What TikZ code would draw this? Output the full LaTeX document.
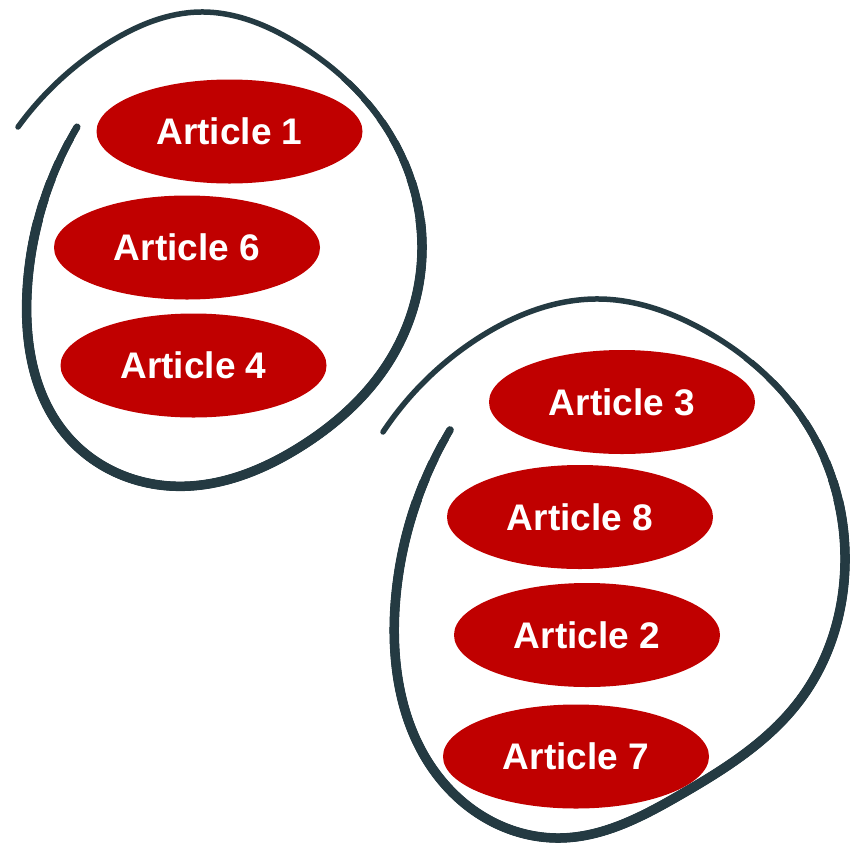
\documentclass[tikz,border=0pt]{standalone}
\usepackage{fontspec}
\setmainfont{Liberation Sans}
\usetikzlibrary{shapes.geometric,hobby}
\definecolor{artred}{HTML}{C00000}
\definecolor{loopcol}{HTML}{243A42}
\tikzset{
  article/.style={ellipse, fill=artred, draw=none, minimum width=266pt, minimum height=104pt, inner sep=0pt,
    text=white, font=\bfseries\fontsize{37}{44}\selectfont},
  loopline/.style={draw=loopcol, line width=5.5pt, line cap=round, line join=round, use Hobby shortcut}
}
\def\loopApath{(18,127) .. (110,42) .. (200,12) .. (300,45) .. (383,123) .. (422,245)
  .. (390,360) .. (300,447) .. (170,486) .. (68,437) .. (27,293) .. (77,127)}
\def\loopBpath{(383,432) .. (480,337) .. (600,299) .. (700,328) .. (810,430) .. (845,563)
  .. (800,700) .. (680,795) .. (560,838) .. (450,790) .. (395,607) .. (450,430)}
\begin{document}
\begin{tikzpicture}[x=1pt,y=-1pt]
\useasboundingbox (0,0) rectangle (857,844);
% loop A: thin at the start and top, gradually thicker lower down
\draw[loopline] \loopApath;
\begin{scope}
  \clip (0,844) -- (0,160) -- (30,160) -- (130,20) -- (440,20) -- (440,844) -- cycle;
  \foreach \k in {1,...,8} {
    \pgfmathsetmacro\lw{5.5+0.5*\k}
    \begin{scope}
      \clip (0,{60+20*\k}) rectangle (440,844);
      \draw[loopline, line width=\lw pt] \loopApath;
    \end{scope}
  }
\end{scope}
% loop B
\draw[loopline] \loopBpath;
\begin{scope}
  \clip (370,844) -- (370,494) -- (400,470) -- (500,330) -- (857,330) -- (857,844) -- cycle;
  \foreach \k in {1,...,8} {
    \pgfmathsetmacro\lw{5.5+0.5*\k}
    \begin{scope}
      \clip (370,{340+20*\k}) rectangle (857,844);
      \draw[loopline, line width=\lw pt] \loopBpath;
    \end{scope}
  }
\end{scope}
% articles
\node[article] (a1) at (229.5,131.5) {Article 1};
\node[article] (a6) at (187,247.5) {Article 6};
\node[article] (a4) at (193.5,365.5) {Article 4};
\node[article] (a3) at (622,402) {Article 3};
\node[article] (a8) at (580,517) {Article 8};
\node[article] (a2) at (587,635) {Article 2};
\node[article] (a7) at (576,756.5) {Article 7};
\end{tikzpicture}
\end{document}
